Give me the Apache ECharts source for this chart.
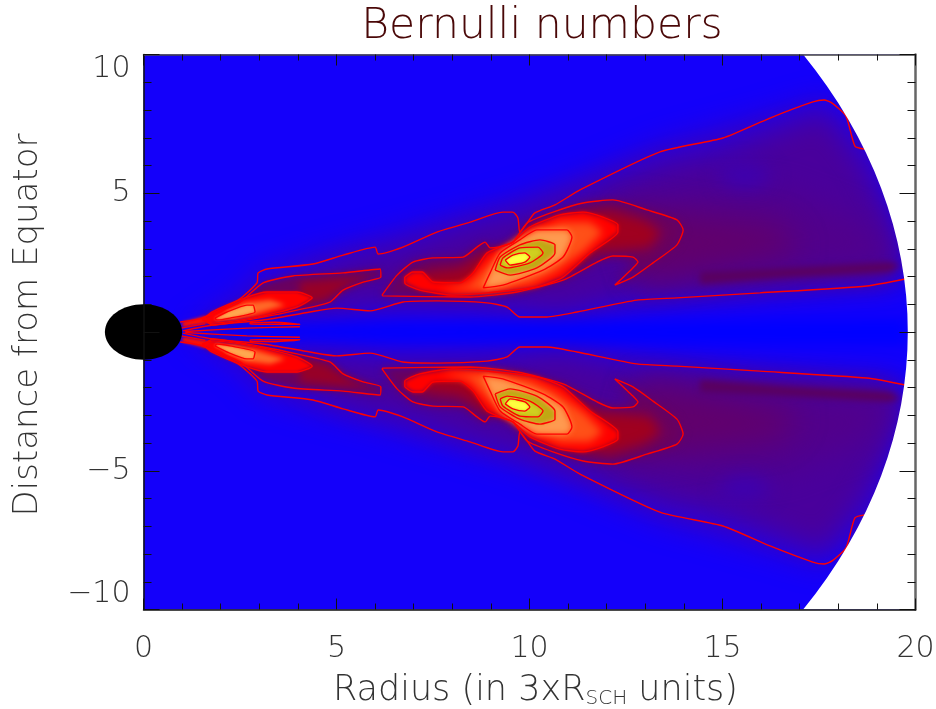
<!DOCTYPE html>
<html><head><meta charset="utf-8">
<style>html,body{margin:0;padding:0;background:#fff}#c{width:936px;height:709px}</style>
<script src="https://cdn.jsdelivr.net/npm/echarts@6/dist/echarts.min.js"></script>
</head><body><div id="c"></div>
<script>
// All point lists are upper-half (Distance > 0); the figure mirrors about the equator.
const outerContourHigh=[[.95,.36],[1.52,.5],[2.45,1.15],[2.94,1.77],[2.97,2.13],[3.2,2.27],[4.39,2.45],[5.17,2.77],[6,3.06],[6.08,2.81],[6.72,3.06],[7.6,3.6],[8.46,3.96],[9.31,4.32],[9.57,4.32],[9.7,4.11],[9.75,3.6],[9.94,3.93],[10.14,4.29],[10.66,4.58],[11.31,5.12],[13.38,6.49],[15.01,6.99],[16.23,7.71],[17.34,8.29],[17.63,8.36],[17.84,8.25],[18.2,7.78],[18.43,6.7],[18.69,6.59]];
const outerContourLow=[[19.73,1.91],[18.74,1.66],[15.97,1.41],[13.82,1.23],[12.78,1.15],[11.23,.72],[10.45,.54],[9.75,.54],[9.42,.9],[8.9,1.05],[7.6,1.12],[6.72,1.08],[5.87,.76],[5.01,.86],[4.31,.72],[3.1,.43],[1.8,.25],[1.02,.04]];
const innerHump=[[1.52,.5],[2.5,1.08],[3.1,1.77],[3.87,2.02],[5.17,2.13],[6.13,2.27],[6.15,1.98],[5.69,1.8],[5.17,1.51],[4.83,1.08],[3.98,.79],[3.1,.54],[1.8,.25]];
const innerRed=[[1.52,.43],[1.77,.72],[2.63,1.23],[3.2,1.44],[3.98,1.44],[4.37,1.23],[3.98,.9],[3.1,.58],[1.8,.32]];
const innerPeak=[[1.85,.5],[2.16,.72],[2.68,.97],[2.84,.97],[2.89,.72],[2.24,.5],[1.9,.43]];
const spikeLoop=[[2.76,.34],[3.41,.35],[4.05,.28],[4.05,.26],[3.41,.28],[2.76,.29]];
const spikeLine=[[1.08,0.02],[2.68,.14],[4.05,.19]];
const tailLine=[[.98,.14],[1.6,.3]];
const mainBody=[[6.18,1.33],[6.57,2.05],[6.98,2.52],[7.5,2.67],[8.28,2.7],[8.64,3.06],[8.85,3.24],[8.98,3.03],[9.18,3.06],[9.57,3.24],[9.94,3.93],[10.61,4.32],[11.39,4.65],[12.16,4.76],[13.04,4.4],[13.82,4.04],[13.98,3.68],[13.82,3.14],[13.2,2.49],[12.68,1.98],[12.21,1.69],[12.68,2.31],[12.81,2.52],[12.68,2.7],[12.16,2.74],[11.75,2.52],[10.87,1.87],[9.68,1.44],[8.46,1.26],[6.2,1.3]];
const mainRed=[[6.77,1.98],[6.98,2.16],[7.22,2.16],[7.5,1.8],[8.2,1.77],[8.54,2.13],[8.9,2.85],[9.57,3.24],[10.01,3.78],[10.79,4.22],[11.39,4.32],[11.9,4.14],[12.29,3.86],[12.29,3.6],[11.57,2.85],[10.87,1.98],[10.19,1.62],[8.9,1.41],[8.02,1.33],[7.16,1.51],[6.77,1.77]];
const mainPeach=[[8.8,1.59],[8.98,2.13],[9.24,2.85],[9.75,3.32],[10.19,3.68],[10.97,3.68],[11.1,3.42],[10.87,2.7],[10.35,2.23],[9.31,1.69]];
const mainOlive=[[9.11,2.23],[9.24,2.7],[9.75,3.14],[10.27,3.32],[10.66,3.14],[10.66,2.85],[10.19,2.31],[9.5,2.05]];
const mainLime=[[9.24,2.41],[9.31,2.67],[9.75,3.03],[10.22,3.06],[10.35,2.85],[10.01,2.49],[9.42,2.31]];
const mainYellow=[[9.37,2.59],[9.57,2.77],[9.88,2.85],[10.01,2.7],[9.88,2.52],[9.5,2.41]];
// shading only (no contour line)
const wedgeOuter=[[1.08,.14],[2.5,1.44],[3.02,2.31],[4.44,2.88],[6,3.46],[8.46,4.4],[9.75,4.94],[11.31,5.66],[13.38,6.85],[16.23,7.93],[17.63,8.5],[19.08,6.56],[19.73,1.95],[14.42,1.05],[10.79,.36],[8.46,.61],[6.65,.72],[4.05,.36],[1.46,.07]];
const wedgeInner=[[4.05,1.8],[5.22,2.52],[6.65,2.95],[8.46,3.75],[9.88,4.22],[11.31,5.01],[13.38,6.02],[15.01,6.49],[16.23,7.1],[17.63,7.78],[18.56,6.09],[19.34,4.11],[19.65,2.52],[19.34,1.77],[15.97,1.59],[12.86,1.41],[10.79,.86],[8.72,1.15],[6.65,1.15],[4.05,.97]];
const wedgeCore=[[12.34,4.22],[14.42,5.12],[16.49,5.12],[18.56,4.04],[19.47,2.52],[16.49,2.16],[12.86,1.69]];
const paleBump=[[15,6],[16,6],[16.3,5.5],[15.6,5.2],[14.9,5.5]];
const darkZone=[[12.34,4.58],[14.42,4.22],[16.49,3.86],[17.01,2.95],[14.42,2.23],[12.86,1.87]];
const darkStripe=[[14.42,2.16],[16.49,2.31],[19.34,2.52],[19.6,2.4],[19.34,2.16],[16.49,1.95],[14.42,1.73]];
const mainDeep=[[7.03,1.69],[7.29,2.16],[8.2,2.31],[8.72,2.77],[9.5,3.03],[10.01,3.6],[10.79,4.11],[12.09,4.4],[12.99,4.04],[13.43,3.6],[13.12,3.03],[12.47,2.95],[11.7,2.88],[11.05,2.31],[10.01,1.77],[9.24,1.51],[7.68,1.44]];
const mainOrange=[[7.68,1.51],[8.46,1.73],[8.98,2.52],[9.75,3.39],[10.79,3.96],[11.57,3.96],[11.9,3.6],[11.44,2.95],[10.66,2.16],[10.01,1.73],[8.98,1.48]];
const innerDeep=[[4.05,1.8],[5.22,1.95],[5.92,2.02],[5.35,1.73],[4.7,1.15],[4.05,.97]];
const innerOrange=[[2.11,.72],[2.63,1.05],[3.28,1.15],[3.67,.97],[2.89,.65],[2.29,.5]];
const starTail=[[1,.36],[1.59,.58],[1.85,.36],[1.02,.18]];
const equatorBand=[[2,.2],[8,.3],[19.8,.5],[19.8,-.5],[8,-.3],[2,-.2]];

const xTicks=[0,5,10,15,20], yTicks=[-10,-5,0,5,10];
const horizonRadius=19.8, holeRadius=1;
const titleText='Bernulli numbers', xName='Radius (in 3xR{sub|SCH} units)', yName='Distance from Equator';

const shading=[
 [wedgeOuter,'#3200cc',26],[wedgeInner,'#4a009c',26],[wedgeCore,'#52008c',30],[paleBump,'#3c00b4',20],[darkZone,'#62006c',30],[darkStripe,'#5a0060',6],
 [innerHump,'#6a0060',6],[mainBody,'#6a0060',8],[mainDeep,'#a00020',12],[innerDeep,'#980028',8],
 [starTail,'#ff1000',3],[mainRed,'#ff0000',4],[innerRed,'#ff0000',3],[mainOrange,'#ff5018',8],[innerOrange,'#ff6a28',5],
 [innerPeak,'#ffa850',3],[mainPeach,'#ff9a50',6],[mainOlive,'#c0a814',4],[mainLime,'#d0d020',4],[mainYellow,'#ffff40',3]
];
const closed=c=>c.concat([c[0]]);
const contours=[outerContourHigh,outerContourLow,closed(innerHump),closed(innerRed),closed(innerPeak),closed(spikeLoop),spikeLine,tailLine,
 closed(mainBody),closed(mainRed),closed(mainPeach),closed(mainOlive),closed(mainLime),closed(mainYellow)];

const flip=(pts,s)=>pts.map(p=>[p[0],s*p[1]]);
const OFF=3000; // the shape is parked off-canvas so only its soft shadow lands on the plot
function polySeries(pts,color,blur,z){
  return {type:'custom',coordinateSystem:'cartesian2d',clip:true,silent:true,animation:false,z:z,
    data:pts,encode:{x:0,y:1},
    renderItem(params,api){
      if(params.dataIndex!==0) return null;
      return {type:'polygon',x:-OFF,shape:{points:pts.map(p=>api.coord(p))},style:{fill:color,shadowBlur:blur,shadowColor:color,shadowOffsetX:OFF}};
    }};
}
const series=[];
shading.forEach(([pts,color,blur])=>{[1,-1].forEach(s=>series.push(polySeries(flip(pts,s),color,blur,2)));});
series.splice(12,0,polySeries(equatorBand,'#0000ff',14,2));
contours.forEach(c=>{[1,-1].forEach(s=>series.push({type:'line',data:flip(c,s),showSymbol:false,symbol:'none',silent:true,animation:false,z:3,smooth:0.2,
  lineStyle:{color:'#ff0000',width:1.4}}));});
series.push({type:'custom',coordinateSystem:'cartesian2d',clip:true,silent:true,animation:false,z:4,data:[[horizonRadius,0]],encode:{x:0,y:1},
  renderItem(params,api){
    const xe=Math.sqrt(horizonRadius*horizonRadius-100);
    const a=api.coord([xe,10]),b=api.coord([xe,-10]),tr=api.coord([20,10]),br=api.coord([20,-10]);
    const sz=api.size([horizonRadius,horizonRadius]);
    return {type:'path',shape:{pathData:`M${a[0]} ${a[1]}A${sz[0]} ${sz[1]} 0 0 1 ${b[0]} ${b[1]}L${br[0]} ${br[1]}L${tr[0]} ${tr[1]}Z`},style:{fill:'#fff'}};
  }});
series.push({type:'custom',coordinateSystem:'cartesian2d',clip:false,silent:true,animation:false,z:5,data:[[0,0]],encode:{x:0,y:1},
  renderItem(params,api){
    const c=api.coord([0,0]),sz=api.size([holeRadius,holeRadius]);
    return {type:'ellipse',shape:{cx:c[0],cy:c[1],rx:sz[0],ry:sz[1]},style:{fill:'#000'}};
  }});

const font='"DejaVu Sans Light","DejaVu Sans"';
const mk=(pos,isX,show,line)=>({type:'value',position:pos,z:10,
  min:isX?0:-10,max:isX?20:10,interval:5,
  axisLine:{show:true,onZero:false,lineStyle:{color:line,width:pos==='right'?2.5:1.5}},
  axisTick:{show:true,inside:true,length:isX?11:16,lineStyle:{color:'#111',width:1}},
  minorTick:{show:true,splitNumber:5,length:isX?6:8,lineStyle:{color:'#111',width:1}},
  splitLine:{show:false},minorSplitLine:{show:false},
  axisLabel:{show,color:'#333',fontFamily:font,fontWeight:200,fontSize:30,margin:isX?25:13,
    verticalAlignMinLabel:isX?undefined:'bottom',verticalAlignMaxLabel:isX?undefined:'top',
    formatter:v=>(!isX&&v===0)?'':String(v).replace('-','\u2212')}});
const xb=mk('bottom',true,true,'#111'), xt=mk('top',true,false,'#444');
const yl=mk('left',false,true,'#111'), yr=mk('right',false,false,'#666');
Object.assign(xb,{name:xName,nameLocation:'middle',nameGap:64,nameTextStyle:{color:'#333',fontFamily:font,fontWeight:200,fontSize:35,padding:[0,0,0,12],
  rich:{sub:{fontSize:20,fontFamily:font,color:'#333',verticalAlign:'bottom',padding:[12,0,0,0]}}}});
Object.assign(yl,{name:yName,nameLocation:'middle',nameGap:98,nameTextStyle:{color:'#333',fontFamily:font,fontWeight:200,fontSize:34,padding:[0,0,0,14]}});
const chart=echarts.init(document.getElementById('c'),null,{renderer:'canvas'});
chart.setOption({animation:false,backgroundColor:'#fff',
  title:{text:titleText,left:537,top:0,textAlign:'center',textStyle:{color:'#4a0808',fontFamily:font,fontWeight:200,fontSize:42.5}},
  grid:{show:true,backgroundColor:'#1400fa',borderWidth:0,left:143.5,right:20.5,top:54.5,bottom:99.5,outerBoundsMode:'none'},
  xAxis:[xb,xt],yAxis:[yl,yr],series});
</script></body></html>
